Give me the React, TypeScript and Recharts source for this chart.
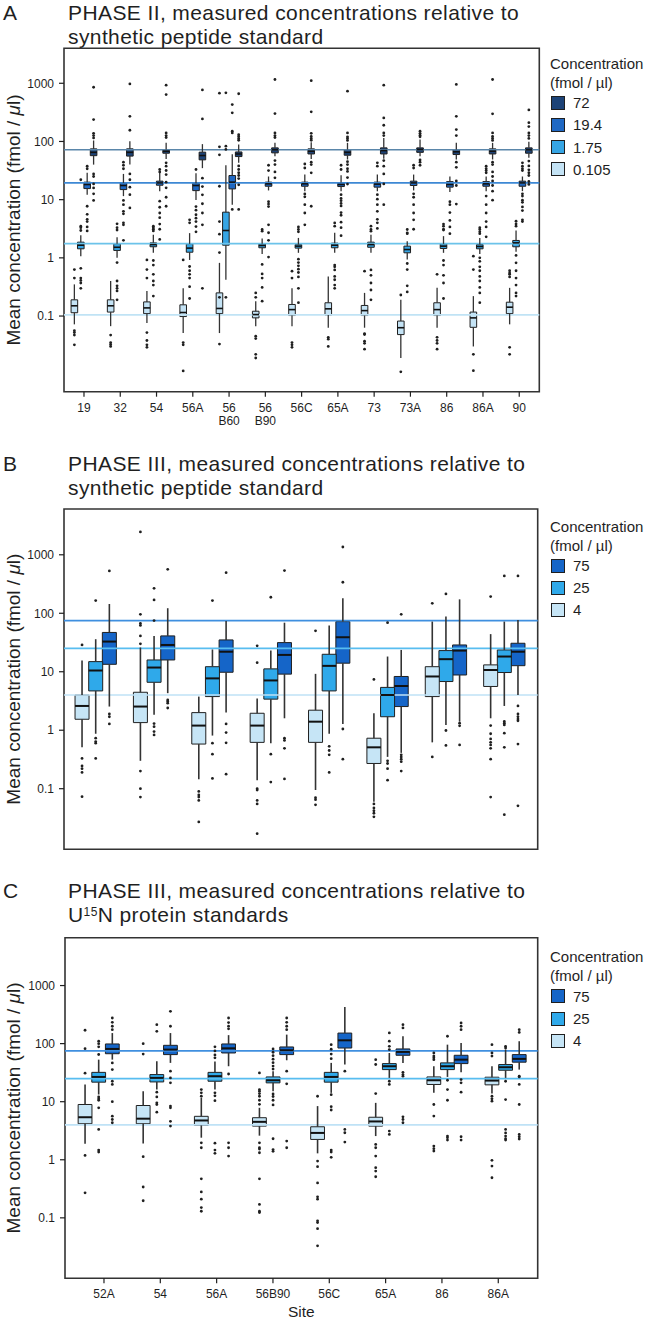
import React from "react";
import {
  ComposedChart,
  Legend,
  ReferenceArea,
  ReferenceLine,
  Scatter,
  XAxis,
  YAxis,
} from "recharts";

const FONT = '"Liberation Sans", Arial, Helvetica, sans-serif';
const INK = "#1f1f1f";

// ---------- Panel A: phase II, synthetic peptide standard ----------
const sitesA = ["19", "32", "54", "56A", "56\nB60", "56\nB90", "56C", "65A", "73", "73A", "86", "86A", "90"];
const concLabelsA = ["72", "19.4", "1.75", "0.105"];
const levelsA = [72, 19.4, 1.75, 0.105];
const fillsA = ["#1d4377", "#1f68c3", "#36a5e4", "#c4e3f5"];
const levelColorsA = ["#5a86aa", "#3d88d4", "#6cc3ea", "#c0e3f5"];

// box stats per site: [low whisker, q1, median, q3, high whisker]
const boxA72 = [
  [40, 57, 65, 74.6, 104], [40, 56, 65, 74.6, 101], [50, 62.8, 68, 72.6, 94.6], [34.8, 48.3, 57.3, 65.5, 90],
  [42.9, 55, 61, 66, 88.5], [55.8, 63.7, 71.8, 77.6, 94.6], [50, 61, 68, 74.6, 97], [49, 58, 65, 72.6, 94.6],
  [50.7, 61, 69.7, 77.6, 115], [55.8, 65, 72.6, 77.6, 108], [49, 59.6, 66.5, 72.6, 94.6], [49, 61, 68, 74.6, 94.6],
  [52.4, 62.8, 71.8, 77.6, 98.5],
];
const boxA19 = [
  [12.2, 15.5, 18.2, 20, 28.9], [11.5, 14.9, 17.5, 19.4, 27.7], [14, 17.7, 19.4, 20.8, 28.9], [9.9, 14.3, 17.5, 19.2, 28.5],
  [8.2, 15.3, 20, 26, 60], [14.4, 17, 18.7, 20, 25], [14, 17, 18.7, 20, 27], [14, 16.8, 18.2, 19.7, 26.3],
  [14, 16.4, 18.5, 20, 27], [14.4, 17.5, 19.4, 20.8, 27], [13.6, 16.4, 18.2, 20.4, 25], [14, 17, 18.7, 20.4, 25],
  [14, 17, 19.4, 20.8, 25],
];
const boxA175 = [
  [1.07, 1.43, 1.65, 1.86, 2.45], [1.0, 1.34, 1.52, 1.74, 2.27], [1.22, 1.55, 1.69, 1.81, 2.5], [0.92, 1.25, 1.47, 1.74, 2.66],
  [0.42, 1.65, 2.95, 6.1, 39], [1.17, 1.49, 1.63, 1.74, 2.15], [1.22, 1.47, 1.59, 1.69, 2.2], [1.22, 1.49, 1.65, 1.79, 2.69],
  [1.22, 1.52, 1.69, 1.86, 2.5], [0.94, 1.22, 1.39, 1.59, 1.93], [1.22, 1.45, 1.59, 1.74, 2.36], [1.17, 1.43, 1.57, 1.69, 2.2],
  [1.27, 1.55, 1.81, 1.99, 2.95],
];
const boxA0105 = [
  [0.072, 0.114, 0.15, 0.19, 0.35], [0.067, 0.117, 0.15, 0.19, 0.4], [0.076, 0.11, 0.138, 0.175, 0.27], [0.051, 0.098, 0.115, 0.156, 0.3],
  [0.051, 0.11, 0.135, 0.25, 0.82], [0.067, 0.093, 0.106, 0.121, 0.18], [0.067, 0.102, 0.129, 0.158, 0.3], [0.063, 0.104, 0.133, 0.169, 0.48],
  [0.063, 0.102, 0.124, 0.152, 0.25], [0.019, 0.048, 0.063, 0.082, 0.19], [0.063, 0.102, 0.129, 0.169, 0.305], [0.03, 0.064, 0.093, 0.117, 0.22],
  [0.072, 0.11, 0.142, 0.173, 0.305],
];

const outA72 = [
  [855, 238, 138, 126, 115, 27.7, 25, 18.6, 15.9, 12.6, 9.7],
  [975, 270, 156, 27.7, 22, 16.4, 12.2, 7.2],
  [926, 640, 140, 126, 117, 42.9, 37.6, 31.7, 27, 20, 16, 11, 7.7],
  [770, 244, 23.4, 16.8, 12.1, 8.5, 5.9, 3.7, 0.3],
  [660, 131, 122, 113, 105, 38, 33, 29, 26, 23, 18, 6.8],
  [1160, 302, 140, 126, 117, 47, 40, 30, 23.7],
  [1110, 323, 138, 122, 113, 105, 44, 40, 28.9, 7.7],
  [731, 140, 120, 113, 104, 45, 40, 34, 30.5, 24, 18.5],
  [926, 254, 190, 140, 126, 47, 37.6, 27.7, 18.6, 8.2],
  [150, 138, 128, 120, 48, 44, 39],
  [955, 270, 160, 126, 44, 36, 21, 17.5, 8.4],
  [1160, 298, 140, 122, 113, 104, 44, 40, 30, 25, 21, 17.5, 14, 9.8],
  [349, 210, 180, 140, 126, 113, 46, 38, 32.5, 29, 26, 20.5, 18.3],
];
const outA19 = [
  [37.6, 34, 7.7, 5.6, 4.6, 4.2, 3.4, 2.9],
  [44, 39, 34, 9.7, 8.2, 6.3, 5.7, 4, 3.7, 2],
  [33, 30, 9.4, 7.4, 5.9, 4.9, 3.8, 3.1, 2.07],
  [33, 7.6, 6.6, 5.5, 4.8, 4.2, 3.45, 2.8],
  [430, 310, 150, 140, 6.8],
  [39, 31.6, 9.2, 8.4, 7.6, 3.7, 2.7, 2.0, 1.03],
  [41, 35, 12.5, 11.2, 8.2, 5.9, 3.7],
  [39, 33, 12.2, 10.5, 9.6, 8.6, 7.8, 6, 5.4, 4.1, 3.3, 2.4],
  [43, 37.6, 12.2, 10.2, 8.2, 6.3, 4.6, 4, 3.2],
  [39, 35, 12.6, 11, 8.2, 5.9, 4.5, 3.1],
  [9.2, 8.2, 6, 4.4, 3.4, 2.6],
  [37.6, 34, 31.6, 29, 11.5, 8.2, 5.9, 4.2, 3.4, 2.3],
  [43, 37.6, 34, 31.6, 12.6, 11.5, 9.8, 9, 7.5, 6.5, 4.5, 4.2],
];
const outA175 = [
  [22, 3.5, 3.3, 2.95, 0.66, 0.45, 0.41, 0.37, 0.3],
  [3.84, 3.3, 3.0, 0.83, 0.4, 0.33, 0.3, 0.27, 0.19],
  [3.5, 3.3, 3.1, 2.9, 0.9, 0.75, 0.52, 0.4, 0.34, 0.22],
  [4.5, 4.0, 0.71, 0.6, 0.52, 0.45, 0.32, 0.2],
  [684, 83, 73, 0.21],
  [3.07, 2.87, 0.77, 0.53, 0.45, 0.31, 0.18],
  [3.4, 3.07, 2.8, 0.95, 0.83, 0.73, 0.64, 0.56, 0.47, 0.3, 0.17],
  [3.99, 3.5, 0.75, 0.7, 0.62, 0.48, 0.42, 0.34, 0.3],
  [3.5, 3.07, 2.87, 0.62, 0.5, 0.37, 0.28, 0.19],
  [3.07, 2.69, 2.6, 0.8, 0.63, 0.33, 0.26],
  [3.8, 3.5, 3.1, 3.0, 0.9, 0.75, 0.5, 0.37, 0.2],
  [3.3, 3.07, 2.8, 2.6, 1.0, 0.87, 0.7, 0.6, 0.48, 0.4, 0.31, 0.25, 0.17],
  [4.27, 3.83, 3.5, 1.1, 0.82, 0.6, 0.45, 0.34, 0.25, 0.22],
];
const outA0105 = [
  [0.63, 0.45, 0.056, 0.052, 0.047, 0.032],
  [0.047, 0.035, 0.0325, 0.03],
  [0.92, 0.63, 0.45, 0.052, 0.038, 0.032, 0.029],
  [0.92, 0.035, 0.032, 0.0114],
  [676, 81, 59, 17, 4.2, 2.55, 1.23, 0.21, 0.033],
  [0.25, 0.21, 0.045, 0.041, 0.022, 0.019],
  [0.59, 0.45, 0.035, 0.032, 0.029],
  [0.043, 0.04, 0.03],
  [0.59, 0.05, 0.048, 0.037, 0.034, 0.027],
  [0.23, 0.011],
  [0.52, 0.043, 0.038, 0.034, 0.027],
  [1.07, 0.63, 0.022, 0.0115],
  [0.6, 0.55, 0.52, 0.47, 0.029, 0.022],
];

// ---------- Panels B and C: phase III ----------
const sitesIII = ["52A", "54", "56A", "56B90", "56C", "65A", "86", "86A"];
const concLabelsIII = ["75", "25", "4"];
const levelsIII = [75, 25, 4];
const fillsIII = ["#1565c8", "#2fa9ea", "#c6e5f6"];
const levelColorsIII = ["#3f8fdf", "#58bdf0", "#bfe2f6"];

const boxB75 = [
  [2.54, 13.4, 32.8, 47, 144], [4.3, 15.9, 28.7, 41, 122], [2.0, 9.8, 22, 35, 74], [1.6, 9.1, 19.4, 31.5, 69],
  [1.28, 14, 38.9, 72, 180], [0.41, 2.54, 5.7, 8.3, 23.6], [1.4, 8.8, 23, 28.7, 173], [4.0, 12.7, 22, 30.7, 77],
];
const boxB25 = [
  [0.87, 4.7, 10.5, 14.9, 36], [1.83, 6.6, 11.8, 15.9, 41], [0.81, 3.76, 7.7, 12.2, 24], [0.6, 3.4, 7.1, 11.2, 23],
  [0.87, 4.7, 12.6, 19.9, 61.5], [0.35, 1.7, 4.0, 5.4, 18.2], [1.23, 6.8, 16.4, 23, 88], [2.6, 9.7, 18.2, 23.6, 72],
];
const boxB4 = [
  [0.51, 1.54, 2.6, 4.0, 15.5], [0.3, 1.35, 2.54, 4.46, 26], [0.145, 0.58, 1.2, 2.0, 3.76], [0.14, 0.62, 1.2, 1.95, 3.5],
  [0.095, 0.62, 1.4, 2.2, 9.2], [0.06, 0.27, 0.51, 0.73, 1.95], [0.62, 3.76, 8.3, 12.2, 72], [1.6, 5.6, 10.7, 13.1, 44],
];
const outB75 = [
  [530, 1.9, 1.7, 1.28],
  [565, 3.3, 3.1, 2.9, 2.4],
  [495, 1.28, 0.91, 0.61, 0.177],
  [536, 0.73, 0.67, 0.49, 0.147],
  [1360, 339, 1.05, 0.32],
  [96, 0.38, 0.35, 0.32, 0.29, 0.2],
  [1.32, 1.19, 0.56],
  [435, 2.6, 1.9, 1.7, 1.55, 1.45, 0.58, 0.051],
];
const outB25 = [
  [165, 0.73, 0.64, 0.6, 0.33],
  [267, 169, 75, 1.3, 1.15, 0.95, 0.83],
  [165, 0.6, 0.39, 0.15],
  [188, 0.39, 0.13],
  [0.53, 0.45, 0.38, 0.19],
  [69, 0.3, 0.27, 0.22, 0.14],
  [214, 0.99, 0.55],
  [435, 1.41, 1.32, 1.23, 0.89, 0.51, 0.036],
];
const outB4 = [
  [28.7, 0.33, 0.245, 0.22, 0.19, 0.073],
  [2460, 96, 67, 62, 41, 30, 0.2, 0.1, 0.072],
  [0.09, 0.078, 0.072, 0.063, 0.027],
  [27.7, 14.3, 0.1, 0.095, 0.063, 0.055, 0.017],
  [50, 0.07, 0.065, 0.053],
  [7.4, 0.055, 0.047, 0.042, 0.038, 0.033],
  [148, 0.35],
  [193, 1.2, 0.87, 0.71, 0.62, 0.56, 0.49, 0.32, 0.072],
];

const boxC75 = [
  [53, 67, 81, 98.7, 152], [46.6, 64.7, 78.9, 93.5, 152], [40.8, 69, 83, 98.7, 140], [51.7, 64.7, 76.9, 87.6, 143],
  [43.6, 84, 114, 152, 427], [46.6, 63, 72, 81, 134], [32, 45.3, 53, 63, 103], [35.7, 47.9, 54.6, 64.7, 110],
];
const boxC25 = [
  [13.3, 21.7, 26.7, 32, 53], [16.2, 21.9, 25.7, 29.3, 49.7], [16.2, 22.5, 27.5, 32, 49], [15.2, 21.1, 23.4, 26.7, 33.5],
  [14.2, 21.7, 26.7, 32, 46.6], [25.7, 35.7, 40.8, 45.3, 69], [26.7, 35.7, 40.8, 46.6, 96], [25.7, 34.8, 39.2, 43.6, 79],
];
const boxC4 = [
  [1.89, 4.17, 5.4, 8.95, 19.8], [1.91, 4.17, 5.1, 8.6, 15.2], [2.4, 3.9, 4.75, 5.6, 11.6], [2.6, 3.8, 4.5, 5.3, 7.85],
  [1.29, 2.24, 2.9, 3.7, 8.4], [2.56, 3.8, 4.57, 5.4, 9.55], [14.2, 19.8, 23.4, 26.7, 40.8], [13.8, 19.5, 23.1, 26.4, 40.8],
];
const outC75 = [
  [276, 233, 199, 174, 46.6, 35.7, 22.5, 19.8, 10, 5.64, 4.94, 4.34],
  [360, 199, 33.5, 25.7, 21.1, 8.4, 7.85, 4.6, 3.8],
  [276, 230, 200, 180, 30, 1.96, 1.61, 1.16],
  [276, 233, 199, 174, 33.5, 20.3, 2.1, 1.61],
  [33.6, 3.33, 2.92, 2.02],
  [212, 186, 32, 29.3, 27.5, 5.5, 4.94, 4.34],
  [227, 199, 174, 24, 21.1, 14.6, 2.49, 2.18],
  [174, 156, 27.5, 26.7, 19.8, 8.95, 2.73, 2.49, 2.28],
];
const outC25 = [
  [110, 100, 88, 65, 12.1, 11.2, 10.6, 7.85, 3.33, 1.47, 1.36],
  [212, 163, 14.6, 12.1, 9.55, 8.95, 6.6],
  [88, 75, 64, 57, 14.2, 12.6, 10.4, 1.93, 1.47, 1.29],
  [81, 71, 62, 54, 47, 41, 36.5, 13.6, 12.3, 10.6, 8.8, 2.3, 1.5, 1.4],
  [96, 80, 66, 55, 13.2, 8.2, 7.2, 1.47, 1.36, 1.1],
  [153, 110, 90, 79, 22.5, 19.8, 3.12, 2.73],
  [134, 23.4, 16.2, 10.6, 2.56, 2.4, 2.18],
  [90, 84, 22.5, 10.9, 3.33, 2.9, 2.56, 2.3, 2.18],
];
const outC4 = [
  [170, 82, 31, 1.19, 0.27],
  [100, 66, 1.13, 0.34, 0.197],
  [16.2, 14.2, 12.4, 1.96, 1.61, 0.47, 0.28, 0.21, 0.15, 0.13],
  [31.3, 16.2, 15.2, 13.8, 12.4, 10.6, 9.0, 1.96, 1.61, 1.53, 1.32, 0.47, 0.17, 0.13, 0.123],
  [12.4, 0.95, 0.76, 0.4, 0.23, 0.21, 0.089, 0.083, 0.065, 0.033],
  [53, 43.7, 13.8, 1.84, 1.61, 1.16, 0.73, 0.64, 0.51],
  [69, 61, 57, 53, 8.95, 5.65, 1.72, 1.55, 1.41],
  [96, 69, 61, 12.4, 11.2, 10.2, 0.98, 0.78, 0.49],
];

const yTicks = [0.1, 1, 10, 100, 1000];

type PanelProps = {
  top: number;
  height: number;
  marginTop: number;
  plotLeft: number;
  plotRight: number;
  xAxisHeight: number;
  xDomain: [number, number];
  yDomain: [number, number];
  sites: string[];
  showSiteLabels: boolean;
  siteTitle?: string;
  boxes: number[][][];
  outliers: number[][][];
  fills: string[];
  offsets: number[];
  boxWidth: number;
  groupStep: number;
  groupShift: number;
  levels: number[];
  levelColors: string[];
  legendLabels: string[];
  legendTop: number;
  letter: string;
  titleLines: React.ReactNode[];
  titleTop: number;
  whiskerWidth: number;
  medianWidth: number;
};

function SiteTick(props: any) {
  const { x, y, payload, labels } = props;
  const text: string = labels[payload.value] ?? "";
  return (
    <text x={x} y={y} textAnchor="middle" fontSize={12} fill={INK} fontFamily={FONT}>
      {text.split("\n").map((line, i) => (
        <tspan key={i} x={x} dy={i === 0 ? 13 : 13.5}>
          {line}
        </tspan>
      ))}
    </text>
  );
}

function YTitle(props: any) {
  const vb = props.viewBox || { x: 0, y: 0, width: 64, height: 300 };
  const cx = 20;
  const cy = vb.y + vb.height / 2;
  return (
    <text
      x={cx}
      y={cy}
      transform={`rotate(-90, ${cx}, ${cy})`}
      textAnchor="middle"
      fontSize={19}
      fill={INK}
      fontFamily={FONT}
    >
      Mean concentration (fmol / <tspan fontStyle="italic">μ</tspan>l)
    </text>
  );
}

function LegendBlock({ labels, fills }: { labels: string[]; fills: string[] }) {
  return (
    <div style={{ fontFamily: FONT, color: INK, fontSize: 15, lineHeight: "19px", whiteSpace: "nowrap" }}>
      <div>Concentration</div>
      <div>(fmol / µl)</div>
      {labels.map((l, i) => (
        <div key={l} style={{ display: "flex", alignItems: "center", height: 22.2 }}>
          <span
            style={{
              display: "inline-block",
              width: 12,
              height: 12,
              background: fills[i],
              border: `1px solid ${INK}`,
              marginLeft: 1,
              marginRight: 8,
            }}
          />
          {l}
        </div>
      ))}
    </div>
  );
}

const titleStyle: React.CSSProperties = {
  position: "absolute",
  fontFamily: FONT,
  fontSize: 21,
  lineHeight: "24px",
  letterSpacing: 0.4,
  color: INK,
  whiteSpace: "nowrap",
};

function BoxPanel(p: PanelProps) {
  const centers = p.sites.map((_, i) => i * p.groupStep + p.groupShift);
  const hw = p.boxWidth / 2;
  const points = p.outliers.flatMap((series, s) =>
    series.flatMap((vals, i) => vals.map((v) => ({ x: centers[i] + p.offsets[s], y: v })))
  );

  const marks: React.ReactNode[] = [];
  p.boxes.forEach((series, s) => {
    series.forEach((b, i) => {
      const cx = centers[i] + p.offsets[s];
      const k = `${s}-${i}`;
      marks.push(
        <ReferenceLine
          key={`wl${k}`}
          segment={[{ x: cx, y: b[0] }, { x: cx, y: b[1] }]}
          stroke="#333"
          strokeWidth={p.whiskerWidth}
          ifOverflow="visible"
        />,
        <ReferenceLine
          key={`wh${k}`}
          segment={[{ x: cx, y: b[3] }, { x: cx, y: b[4] }]}
          stroke="#333"
          strokeWidth={p.whiskerWidth}
          ifOverflow="visible"
        />,
        <ReferenceArea
          key={`bx${k}`}
          x1={cx - hw}
          x2={cx + hw}
          y1={b[1]}
          y2={b[3]}
          fill={p.fills[s]}
          fillOpacity={1}
          stroke={INK}
          strokeWidth={1}
          ifOverflow="visible"
        />,
        <ReferenceLine
          key={`md${k}`}
          segment={[{ x: cx - hw, y: b[2] }, { x: cx + hw, y: b[2] }]}
          stroke="#111"
          strokeWidth={p.medianWidth}
          ifOverflow="visible"
        />
      );
    });
  });

  return (
    <div style={{ position: "absolute", left: 0, top: p.top, width: 652, height: p.height }}>
      <div style={{ ...titleStyle, left: 3, top: p.titleTop, letterSpacing: 0 }}>{p.letter}</div>
      {p.titleLines.map((line, i) => (
        <div key={i} style={{ ...titleStyle, left: 68, top: p.titleTop + i * 24 }}>
          {line}
        </div>
      ))}
      <ComposedChart
        width={652}
        height={p.height}
        margin={{ top: p.marginTop, right: 652 - p.plotRight, bottom: 0, left: 0 }}
        style={{ position: "absolute", left: 0, top: 0 }}
      >
        <XAxis
          type="number"
          dataKey="x"
          domain={p.xDomain}
          allowDataOverflow
          ticks={p.sites.map((_, i) => i)}
          interval={0}
          height={p.xAxisHeight}
          axisLine={false}
          tickLine={{ stroke: INK, strokeWidth: 1.2 }}
          tickSize={5}
          tickMargin={2}
          tick={p.showSiteLabels ? <SiteTick labels={p.sites} /> : false}
          label={
            p.siteTitle
              ? {
                  content: (lp: any) => {
                    const vb = lp.viewBox;
                    return (
                      <text
                        x={vb.x + vb.width / 2}
                        y={vb.y + 39}
                        textAnchor="middle"
                        fontSize={15.5}
                        fill={INK}
                        fontFamily={FONT}
                      >
                        {p.siteTitle}
                      </text>
                    );
                  },
                }
              : undefined
          }
        />
        <YAxis
          type="number"
          scale="log"
          domain={p.yDomain}
          allowDataOverflow
          ticks={yTicks}
          interval={0}
          width={p.plotLeft}
          axisLine={false}
          tickLine={{ stroke: INK, strokeWidth: 1.2 }}
          tickSize={5}
          tickMargin={5}
          tick={{ fontSize: 12, fill: INK, fontFamily: FONT }}
          label={{ content: YTitle }}
        />
        {p.levels.map((lv, i) => (
          <ReferenceLine
            key={`lv${lv}`}
            y={lv}
            stroke={p.levelColors[i]}
            strokeWidth={1.7}
            ifOverflow="visible"
          />
        ))}
        {marks}
        <Scatter
          data={points}
          dataKey="y"
          isAnimationActive={false}
          shape={(sp: any) => <circle cx={sp.cx} cy={sp.cy} r={1.4} fill={INK} />}
        />
        <ReferenceArea
          x1={p.xDomain[0]}
          x2={p.xDomain[1]}
          y1={p.yDomain[0]}
          y2={p.yDomain[1]}
          fill="none"
          fillOpacity={0}
          stroke="#333"
          strokeWidth={1.6}
          ifOverflow="visible"
        />
        <Legend
          layout="horizontal"
          verticalAlign="middle"
          align="center"
          wrapperStyle={{ left: 550, top: p.legendTop, width: 102, height: 140 }}
          content={() => <LegendBlock labels={p.legendLabels} fills={p.fills} />}
        />
      </ComposedChart>
    </div>
  );
}

export default function App() {
  return (
    <div style={{ position: "absolute", left: 0, top: 0, width: 652, height: 1325, background: "#fff" }}>
      <BoxPanel
        top={0}
        height={432}
        marginTop={48.3}
        plotLeft={64}
        plotRight={539.3}
        xAxisHeight={40.3}
        xDomain={[-0.551, 12.553]}
        yDomain={[0.00501, 3990]}
        sites={sitesA}
        showSiteLabels
        boxes={[boxA72, boxA19, boxA175, boxA0105]}
        outliers={[outA72, outA19, outA175, outA0105]}
        fills={fillsA}
        offsets={[0.265, 0.088, -0.088, -0.265]}
        boxWidth={0.182}
        groupStep={1}
        groupShift={0}
        levels={levelsA}
        levelColors={levelColorsA}
        legendLabels={concLabelsA}
        legendTop={53.6}
        letter="A"
        titleLines={["PHASE II, measured concentrations relative to", "synthetic peptide standard"]}
        titleTop={0.7}
        whiskerWidth={1.3}
        medianWidth={1.6}
      />
      <BoxPanel
        top={440}
        height={439.3}
        marginTop={69}
        plotLeft={64}
        plotRight={537.7}
        xAxisHeight={30}
        xDomain={[-0.543, 7.572]}
        yDomain={[0.0092, 6067]}
        sites={sitesIII}
        showSiteLabels={false}
        boxes={[boxB75, boxB25, boxB4]}
        outliers={[outB75, outB25, outB4]}
        fills={fillsIII}
        offsets={[0.234, 0, -0.234]}
        boxWidth={0.24}
        groupStep={1}
        groupShift={0}
        levels={levelsIII}
        levelColors={levelColorsIII}
        legendLabels={concLabelsIII}
        legendTop={76.5}
        letter="B"
        titleLines={["PHASE III, measured concentrations relative to", "synthetic peptide standard"]}
        titleTop={12.2}
        whiskerWidth={1.6}
        medianWidth={2}
      />
      <BoxPanel
        top={880}
        height={442.3}
        marginTop={57.7}
        plotLeft={65}
        plotRight={537.7}
        xAxisHeight={44}
        xDomain={[-0.692, 7.7]}
        yDomain={[0.0091, 6668]}
        sites={sitesIII}
        showSiteLabels
        siteTitle="Site"
        boxes={[boxC75, boxC25, boxC4]}
        outliers={[outC75, outC25, outC4]}
        fills={fillsIII}
        offsets={[0.242, 0, -0.242]}
        boxWidth={0.245}
        groupStep={1.032}
        groupShift={-0.094}
        levels={levelsIII}
        levelColors={levelColorsIII}
        legendLabels={concLabelsIII}
        legendTop={67.3}
        letter="C"
        titleLines={[
          "PHASE III, measured concentrations relative to",
          <>
            U
            <span style={{ position: "relative", top: -6, fontSize: 12, lineHeight: "12px" }}>15</span>N
            protein standards
          </>,
        ]}
        titleTop={-1.5}
        whiskerWidth={1.6}
        medianWidth={2}
      />
    </div>
  );
}
